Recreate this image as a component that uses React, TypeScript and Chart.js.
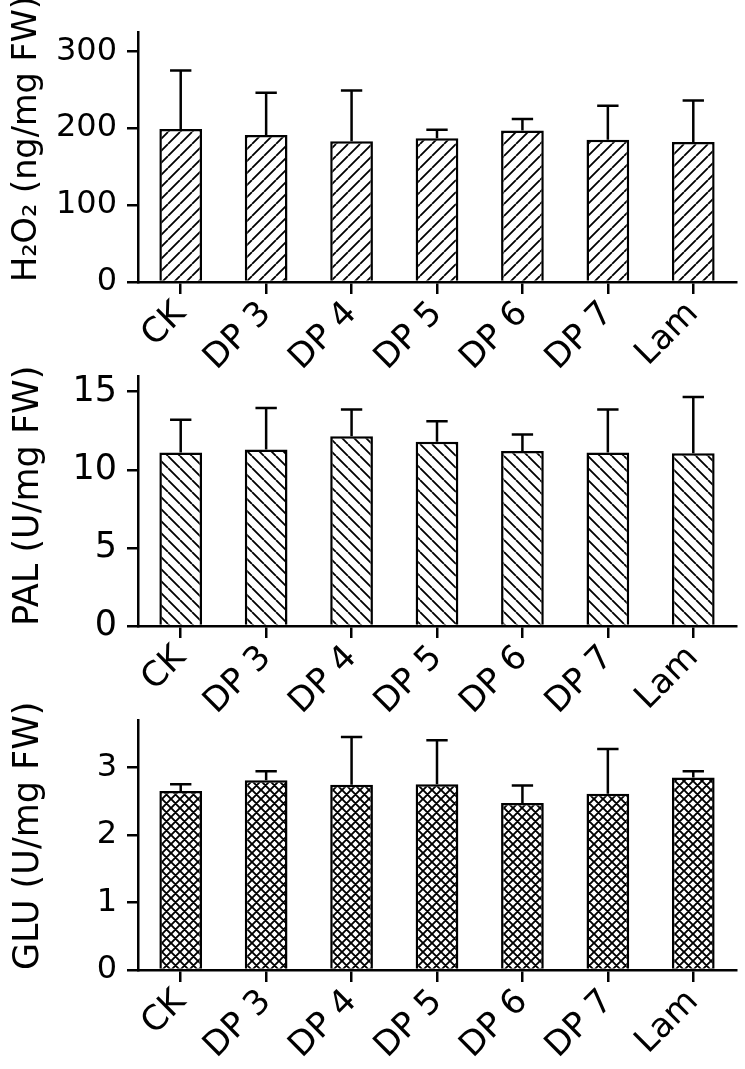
import React, { useEffect, useRef } from 'react';
import { Chart, registerables } from 'chart.js';

Chart.register(...registerables);

const categories = ['CK', 'DP 3', 'DP 4', 'DP 5', 'DP 6', 'DP 7', 'Lam'];

const h2o2Values = [199, 191, 183, 187, 197, 185, 182];
const h2o2Errors = [76, 55, 66, 11, 15, 44, 54];

const palValues = [11.1, 11.3, 12.15, 11.8, 11.2, 11.1, 11.05];
const palErrors = [2.1, 2.65, 1.7, 1.3, 1.05, 2.75, 3.6];

const gluValues = [2.65, 2.81, 2.74, 2.75, 2.47, 2.61, 2.85];
const gluErrors = [0.1, 0.13, 0.71, 0.65, 0.26, 0.66, 0.09];

const FONT = "'DejaVu Sans', 'Liberation Sans', Arial, sans-serif";

type Hatch = 'fwd' | 'back' | 'cross';

function makePattern(ctx: CanvasRenderingContext2D, kind: Hatch, size: number, lw: number) {
  const c = document.createElement('canvas');
  c.width = size;
  c.height = size;
  const g = c.getContext('2d')!;
  g.fillStyle = '#fff';
  g.fillRect(0, 0, size, size);
  g.strokeStyle = '#000';
  g.lineWidth = lw;
  g.beginPath();
  if (kind === 'fwd' || kind === 'cross') {
    for (const o of [-size, 0, size]) {
      g.moveTo(o, size);
      g.lineTo(o + size, 0);
    }
  }
  if (kind === 'back' || kind === 'cross') {
    for (const o of [-size, 0, size]) {
      g.moveTo(o, 0);
      g.lineTo(o + size, size);
    }
  }
  g.stroke();
  return ctx.createPattern(c, 'repeat');
}

const errorBarPlugin = {
  id: 'errorBars',
  afterDatasetsDraw(chart: any) {
    const ds = chart.data.datasets[0];
    const errs: number[] = ds.errors || [];
    const meta = chart.getDatasetMeta(0);
    const yScale = chart.scales.y;
    const ctx = chart.ctx;
    ctx.save();
    ctx.strokeStyle = '#000';
    ctx.lineWidth = 2.5;
    meta.data.forEach((bar: any, i: number) => {
      const v = ds.data[i];
      const e = errs[i];
      const yBar = yScale.getPixelForValue(v);
      const yTop = yScale.getPixelForValue(v + e);
      const half = bar.width / 4;
      ctx.beginPath();
      ctx.moveTo(bar.x, yBar);
      ctx.lineTo(bar.x, yTop);
      ctx.moveTo(bar.x - half, yTop);
      ctx.lineTo(bar.x + half, yTop);
      ctx.stroke();
    });
    ctx.restore();
  },
};

interface PanelProps {
  top: number;
  height: number;
  padTop: number;
  xAxisHeight: number;
  values: number[];
  errors: number[];
  max: number;
  step: number;
  title: string;
  titleSize: number;
  titlePad: number;
  yTickSize: number;
  xTickSize: number;
  hatch: Hatch;
  hatchSize: number;
}

function Panel(p: PanelProps) {
  const ref = useRef<HTMLCanvasElement | null>(null);
  useEffect(() => {
    const canvas = ref.current!;
    const ctx = canvas.getContext('2d')!;
    const pattern = makePattern(ctx, p.hatch, p.hatchSize, p.hatch === 'cross' ? 1.9 : 1.8);
    const chart = new Chart(ctx, {
      type: 'bar',
      data: {
        labels: categories,
        datasets: [
          {
            data: p.values,
            errors: p.errors,
            backgroundColor: pattern as any,
            borderColor: '#000',
            borderWidth: 2.5,
            barPercentage: 0.5,
            categoryPercentage: 1,
          } as any,
        ],
      },
      plugins: [errorBarPlugin],
      options: {
        animation: false,
        responsive: false,
        maintainAspectRatio: false,
        layout: { padding: { top: p.padTop, right: 9, left: 0, bottom: 0 } },
        plugins: { legend: { display: false }, tooltip: { enabled: false } },
        scales: {
          x: {
            type: 'category',
            offset: true,
            grid: {
              display: true,
              drawOnChartArea: false,
              drawTicks: true,
              tickLength: 12,
              color: '#000',
              lineWidth: 2.5,
              offset: false,
            },
            border: { display: true, color: '#000', width: 2.5 },
            ticks: {
              color: '#000',
              font: { family: FONT, size: p.xTickSize },
              maxRotation: 45,
              minRotation: 45,
              autoSkip: false,
              padding: 0,
            },
            afterFit: (s: any) => {
              s.height = p.xAxisHeight;
              s.paddingLeft = 0;
              s.paddingRight = 0;
            },
          },
          y: {
            min: 0,
            max: p.max,
            grid: {
              drawOnChartArea: false,
              drawTicks: true,
              tickLength: 11,
              color: '#000',
              lineWidth: 2.5,
            },
            border: { display: true, color: '#000', width: 2.5 },
            ticks: {
              stepSize: p.step,
              includeBounds: false,
              color: '#000',
              font: { family: FONT, size: p.yTickSize },
              padding: 10,
            },
            title: {
              display: true,
              text: p.title,
              color: '#000',
              align: 'start',
              font: { family: FONT, size: p.titleSize },
              padding: { top: p.titlePad, bottom: 0 },
            },
            afterFit: (s: any) => {
              s.width = 138;
              s.paddingTop = 0;
              s.paddingBottom = 0;
            },
          },
        },
      } as any,
    });
    return () => chart.destroy();
  }, []);
  return (
    <canvas
      ref={ref}
      width={745}
      height={p.height}
      style={{ position: 'absolute', left: 0, top: p.top, width: 745, height: p.height }}
    />
  );
}

export default function App() {
  return (
    <div style={{ position: 'absolute', left: 0, top: 0, width: 745, height: 1069, background: '#fff', overflow: 'hidden' }}>
      <Panel
        top={0}
        height={380}
        padTop={32}
        xAxisHeight={98}
        values={h2o2Values}
        errors={h2o2Errors}
        max={325}
        step={100}
        title={'H\u2082O\u2082 (ng/mg FW)'}
        titleSize={33.5}
        titlePad={7}
        yTickSize={32}
        xTickSize={34}
        hatch="fwd"
        hatchSize={12}
      />
      <Panel
        top={360}
        height={360}
        padTop={16}
        xAxisHeight={94}
        values={palValues}
        errors={palErrors}
        max={16}
        step={5}
        title="PAL (U/mg FW)"
        titleSize={35}
        titlePad={8}
        yTickSize={35}
        xTickSize={34}
        hatch="back"
        hatchSize={12}
      />
      <Panel
        top={700}
        height={369}
        padTop={20}
        xAxisHeight={99}
        values={gluValues}
        errors={gluErrors}
        max={3.7}
        step={1}
        title="GLU (U/mg FW)"
        titleSize={35}
        titlePad={8}
        yTickSize={32}
        xTickSize={34}
        hatch="cross"
        hatchSize={9}
      />
    </div>
  );
}
